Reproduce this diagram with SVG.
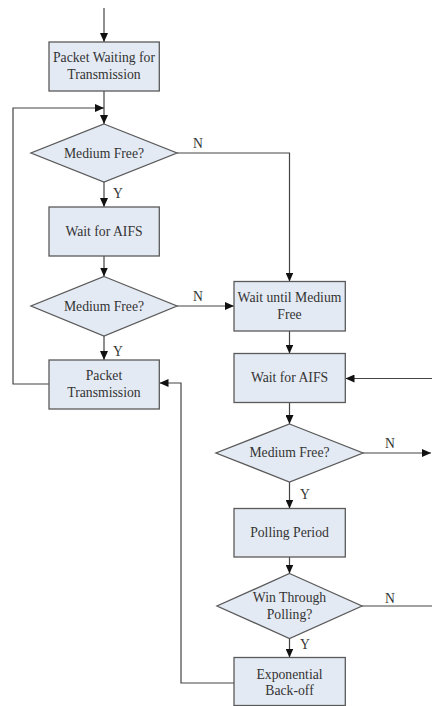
<svg xmlns="http://www.w3.org/2000/svg" width="432" height="706" viewBox="0 0 432 706">
<style>
.box{fill:#e4eaf4;stroke:#5a5a5a;stroke-width:1.3}
.t{font-family:'Liberation Serif','Times New Roman','DejaVu Serif',serif;font-size:13.7px;fill:#333;text-anchor:middle}
.c{fill:none;stroke:#444;stroke-width:1.2}
.a{marker-end:url(#ah)}
</style>
<defs>
<marker id="ah" markerUnits="userSpaceOnUse" markerWidth="10" markerHeight="8" refX="9" refY="4" orient="auto">
<path d="M0,0 L9,4 L0,8 Z" fill="#111"/>
</marker>
</defs>
<rect width="432" height="706" fill="#fff"/>
<g id="connectors">
<path class="c a" d="M104,8 V42"/>
<path class="c a" d="M104,91 V124"/>
<path class="c a" d="M49,384 H13 V108 H104"/>
<path class="c a" d="M177,153 H289.5 V281.5"/>
<path class="c a" d="M104,182 V207"/>
<path class="c a" d="M104,256 V276.5"/>
<path class="c a" d="M177,306 H234"/>
<path class="c a" d="M104,336 V360"/>
<path class="c a" d="M289.5,331 V353.5"/>
<path class="c a" d="M432,378.5 H345.5"/>
<path class="c a" d="M289.5,402.5 V424"/>
<path class="c a" d="M363,453 H431"/>
<path class="c a" d="M289.5,482 V508.5"/>
<path class="c a" d="M289.5,557 V573.5"/>
<path class="c" d="M362,606 H432"/>
<path class="c a" d="M289.5,638.5 V657.5"/>
<path class="c a" d="M234,683 H181 V383 H159.5"/>
<text class="t" x="198" y="148" font-family="Liberation Serif, serif">N</text>
<text class="t" x="118" y="198">Y</text>
<text class="t" x="198" y="301">N</text>
<text class="t" x="118" y="356">Y</text>
<text class="t" x="390" y="448">N</text>
<text class="t" x="305" y="499">Y</text>
<text class="t" x="390" y="603">N</text>
<text class="t" x="305" y="649">Y</text>
</g>
<g id="packet-waiting">
<rect class="box" x="49" y="42" width="110.3" height="49"/>
<text class="t" x="104" y="62">Packet Waiting for</text>
<text class="t" x="104" y="78.5">Transmission</text>
</g>
<g id="medium-free-1">
<polygon class="box" points="104,124 177,153 104,182 31,153"/>
<text class="t" x="104" y="157.5">Medium Free?</text>
</g>
<g id="wait-aifs-1">
<rect class="box" x="49" y="207" width="110.3" height="49"/>
<text class="t" x="104" y="236">Wait for AIFS</text>
</g>
<g id="medium-free-2">
<polygon class="box" points="104,276.5 177,306 104,336 31,306"/>
<text class="t" x="104" y="310.5">Medium Free?</text>
</g>
<g id="packet-transmission">
<rect class="box" x="49" y="360" width="110.3" height="49"/>
<text class="t" x="104" y="379.5">Packet</text>
<text class="t" x="104" y="396.5">Transmission</text>
</g>
<g id="wait-until-free">
<rect class="box" x="234" y="281.5" width="111.3" height="49.5"/>
<text class="t" x="289.5" y="302">Wait until Medium</text>
<text class="t" x="289.5" y="318.5">Free</text>
</g>
<g id="wait-aifs-2">
<rect class="box" x="234" y="353.5" width="111.3" height="49"/>
<text class="t" x="289.5" y="382">Wait for AIFS</text>
</g>
<g id="medium-free-3">
<polygon class="box" points="289.5,424 363,453 289.5,482 216,453"/>
<text class="t" x="289.5" y="457">Medium Free?</text>
</g>
<g id="polling-period">
<rect class="box" x="234" y="508.5" width="111.3" height="48.5"/>
<text class="t" x="289.5" y="537">Polling Period</text>
</g>
<g id="win-polling">
<polygon class="box" points="289.5,573.5 362,606 289.5,638.5 217,606"/>
<text class="t" x="289.5" y="602">Win Through</text>
<text class="t" x="289.5" y="618.5">Polling?</text>
</g>
<g id="exponential-backoff">
<rect class="box" x="234" y="657.5" width="111.3" height="48"/>
<text class="t" x="289.5" y="678.5">Exponential</text>
<text class="t" x="289.5" y="694.5">Back-off</text>
</g>
</svg>
